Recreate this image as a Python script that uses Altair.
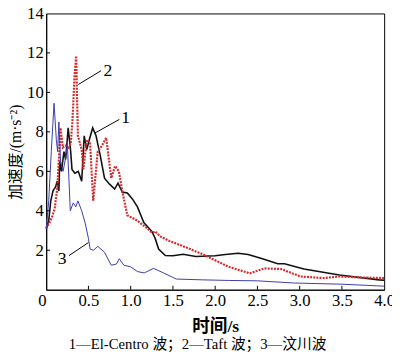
import altair as alt
import pandas as pd

# El-Centro (1)
t1 = [0, 0.03, 0.054, 0.08, 0.093, 0.11, 0.13, 0.15, 0.16, 0.18, 0.21, 0.23, 0.26, 0.29, 0.305, 0.34, 0.38,
      0.42, 0.45, 0.48, 0.51, 0.55, 0.59, 0.64, 0.69, 0.75, 0.81, 0.85, 0.90, 0.96, 1.02, 1.08, 1.155, 1.25,
      1.29, 1.33, 1.41, 1.50, 1.62, 1.77, 1.85, 2.0, 2.12, 2.27, 2.39, 2.55, 2.74, 2.82, 3.05, 3.47, 3.94, 4.0]
v1 = [3.1, 3.5, 4.5, 5.0, 5.1, 5.2, 5.5, 5.0, 6.5, 6.0, 7.0, 6.6, 8.2, 7.0, 6.1, 5.9, 6.0,
      5.5, 7.8, 7.1, 7.6, 8.2, 7.8, 6.8, 5.65, 5.35, 5.1, 5.4, 4.95, 4.9, 4.6, 4.2, 3.4, 2.95,
      2.6, 2.06, 1.73, 1.72, 1.8, 1.68, 1.7, 1.72, 1.78, 1.85, 1.78, 1.58, 1.32, 1.32, 1.05, 0.75, 0.5, 0.48]
# Taft (2)
t2 = [0, 0.04, 0.07, 0.10, 0.13, 0.15, 0.17, 0.197, 0.23, 0.266, 0.29, 0.31, 0.335, 0.355, 0.375, 0.42,
      0.44, 0.48, 0.52, 0.556, 0.61, 0.66, 0.71, 0.77, 0.815, 0.86, 0.90, 0.96, 1.08, 1.19, 1.25, 1.29,
      1.35, 1.46, 1.66, 1.85, 2.0, 2.16, 2.41, 2.58, 2.78, 3.01, 3.28, 3.47, 3.74, 4.0]
v2 = [3.1, 3.4, 3.7, 4.1, 5.1, 6.6, 8.2, 7.2, 7.3, 7.2, 7.4, 8.5, 10.8, 11.85, 7.8, 7.1,
      6.1, 7.6, 7.4, 4.5, 7.0, 7.3, 7.7, 5.65, 6.27, 6.0, 5.0, 3.77, 3.5, 3.12, 2.9, 2.95,
      2.7, 2.47, 2.14, 1.8, 1.49, 1.16, 0.83, 1.08, 1.05, 0.67, 0.59, 0.67, 0.62, 0.59]
# Wenchuan (3)
t3 = [0, 0.03, 0.06, 0.093, 0.12, 0.135, 0.15, 0.17, 0.2, 0.23, 0.25, 0.27, 0.285, 0.32, 0.35, 0.375,
      0.42, 0.46, 0.5, 0.52, 0.56, 0.61, 0.69, 0.77, 0.83, 0.865, 0.92, 1.0, 1.08, 1.16, 1.27, 1.39,
      1.54, 1.85, 2.16, 2.5, 2.93, 3.5, 4.0]
v3 = [3.1, 4.5, 7.0, 9.45, 7.6, 7.0, 8.5, 6.5, 6.0, 6.7, 7.4, 5.5, 4.0, 4.4, 4.2, 4.5,
      4.0, 3.4, 2.6, 2.06, 2.0, 2.2, 1.9, 1.24, 1.3, 1.57, 1.24, 1.16, 0.92, 0.85, 1.08, 0.85,
      0.54, 0.5, 0.47, 0.45, 0.34, 0.28, 0.18]

# annotations: label, text pos, leader start, leader end (data units)
ann_lab = ["1", "2", "3"]
ann_tx = [0.94, 0.73, 0.19]
ann_ty = [8.7, 11.1, 1.55]
ann_x1 = [0.576, 0.38, 0.27]
ann_y1 = [7.94, 10.4, 1.73]
ann_x2 = [0.866, 0.65, 0.50]
ann_y2 = [8.63, 11.1, 2.39]

x_ticks = [0.5, 1.0, 1.5, 2.0, 2.5, 3.0, 3.5]
y_ticks = [2, 4, 6, 8, 10, 12]

FONT = "Liberation Serif"
CJK = "Liberation Serif, Noto Sans CJK SC"
W, H = 345, 282

df = pd.concat([
    pd.DataFrame({"t": t1, "v": v1, "s": "1"}),
    pd.DataFrame({"t": t2, "v": v2, "s": "2"}),
    pd.DataFrame({"t": t3, "v": v3, "s": "3"}),
])
ann = pd.DataFrame({"lab": ann_lab, "tx": ann_tx, "ty": ann_ty,
                    "x1": ann_x1, "y1": ann_y1, "x2": ann_x2, "y2": ann_y2})

xs = alt.Scale(domain=[0, 4], nice=False)
ys = alt.Scale(domain=[0, 14], nice=False)

xaxis = alt.Axis(values=[0, 0.5, 1.0, 1.5, 2.0, 2.5, 3.0, 3.5, 4.0],
                 labelExpr="datum.value == 0 ? '0' : format(datum.value, '.1f')",
                 labelFlush=False,
                 labelAlign={"condition": {"test": "datum.value === 0", "value": "right"}, "value": "center"},
                 title="时间/s", titleFont=CJK, titleFontWeight="bold", titleFontSize=18, titlePadding=10)
yaxis = alt.Axis(values=[0, 2, 4, 6, 8, 10, 12, 14],
                 labelExpr="datum.value == 0 ? '' : datum.label",
                 title="加速度/(m·s⁻²)", titleFont=CJK, titleFontWeight="normal", titleFontSize=16, titlePadding=3)

base = alt.Chart(df)
l1 = base.transform_filter("datum.s == '1'").mark_line(color="#111111", strokeWidth=1.6).encode(
    x=alt.X("t:Q", scale=xs, axis=xaxis), y=alt.Y("v:Q", scale=ys, axis=yaxis))
l2 = base.transform_filter("datum.s == '2'").mark_line(color="#d42a2a", strokeWidth=2.2, strokeDash=[2, 1.2]).encode(
    x="t:Q", y="v:Q")
l3 = base.transform_filter("datum.s == '3'").mark_line(color="#3a3aa8", strokeWidth=1).encode(
    x="t:Q", y="v:Q")

leaders = alt.Chart(ann).mark_rule(color="black", strokeWidth=1).encode(
    x="x1:Q", y="y1:Q", x2="x2:Q", y2="y2:Q")
labels = alt.Chart(ann).mark_text(font=FONT, fontSize=18, color="black").encode(
    x="tx:Q", y="ty:Q", text="lab:N")

xt = alt.Chart(pd.DataFrame({"t": x_ticks})).mark_rule(color="black").encode(
    x="t:Q", y=alt.value(H), y2=alt.value(H - 4))
yt = alt.Chart(pd.DataFrame({"v": y_ticks})).mark_rule(color="black").encode(
    y="v:Q", x=alt.value(0), x2=alt.value(4))

chart = alt.layer(l1, l2, l3, leaders, labels, xt, yt).properties(
    width=W, height=H,
    autosize=alt.AutoSizeParams(type="none"),
    padding={"left": 39, "top": 2, "right": 8, "bottom": 60},
    title=alt.TitleParams("1—El-Centro 波；2—Taft 波；3—汶川波", orient="bottom", anchor="middle",
                          font=CJK, fontSize=15, fontWeight="normal", offset=2, dx=-18, color="black"),
).configure_axis(
    labelFont=FONT, labelFontSize=17,
    labelColor="black", titleColor="black",
    domainColor="black", domainWidth=1, ticks=False, grid=False, labelPadding=3,
).configure_view(stroke="black", strokeWidth=1)

chart.save("out.html", embed_options={"renderer": "svg", "actions": False})
